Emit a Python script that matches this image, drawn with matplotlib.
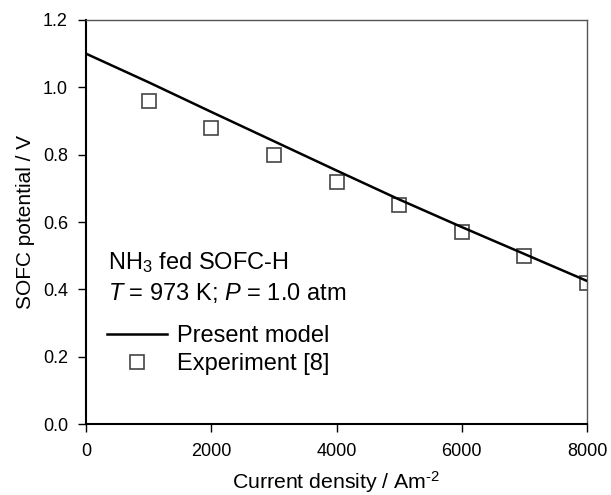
import numpy as np
import matplotlib
matplotlib.use('Agg')
import matplotlib.pyplot as plt

plt.rcParams['font.family'] = ['Liberation Sans', 'DejaVu Sans']
plt.rcParams['mathtext.fontset'] = 'custom'
plt.rcParams['mathtext.rm'] = 'Liberation Sans'
plt.rcParams['mathtext.it'] = 'Liberation Sans:italic'

# model curve
model_i = [0, 1000, 2000, 3000, 4000, 5000, 6000, 7000, 8000]
model_v = [1.10, 1.015, 0.927, 0.840, 0.753, 0.667, 0.585, 0.505, 0.425]

# experiment [8]
exp_i = [1000, 2000, 3000, 4000, 5000, 6000, 7000, 8000]
exp_v = [0.96, 0.88, 0.80, 0.72, 0.65, 0.57, 0.50, 0.42]

xticks = [0, 2000, 4000, 6000, 8000]
yticks = [0.0, 0.2, 0.4, 0.6, 0.8, 1.0, 1.2]

fig = plt.figure(figsize=(6.11, 4.95), dpi=100)
ax = fig.add_axes([0.1408, 0.1434, 0.8199, 0.8162])

ax.plot(model_i, model_v, color='black', lw=1.8, label='Present model', zorder=3)
ax.plot(exp_i, exp_v, 's', ms=9.5, mfc='white', mec='#444444', mew=1.2,
        label='Experiment [8]', zorder=2)

ax.set_xlim(0, 8000)
ax.set_ylim(0, 1.2)
ax.set_xticks(xticks)
ax.set_yticks(yticks)
ax.set_yticklabels(['%.1f' % v for v in yticks])
ax.tick_params(direction='out', length=6, width=1, labelsize=13, colors='black',
               top=False, right=False)
ax.tick_params(axis='y', pad=7)
ax.tick_params(axis='x', pad=8)
for s in ['left', 'bottom']:
    ax.spines[s].set_linewidth(1.5)
    ax.spines[s].set_color('black')
for s in ['top', 'right']:
    ax.spines[s].set_linewidth(1.0)
    ax.spines[s].set_color('#555555')

ax.set_xlabel('Current density / Am$^{\\text{-}2}$', fontsize=15.3, labelpad=6)
ax.set_ylabel('SOFC potential / V', fontsize=15, labelpad=6)

ax.text(350, 0.481, 'NH$_3$ fed SOFC-H', fontsize=17, va='center', ha='left')
ax.text(350, 0.389, '$T$ = 973 K; $P$ = 1.0 atm', fontsize=17, va='center', ha='left')

ax.legend(loc='upper left', bbox_to_anchor=(0.042, 0.245), frameon=False,
          fontsize=17, handlelength=2.55, handletextpad=0.4, labelspacing=0.25,
          borderaxespad=0, borderpad=0)

fig.savefig('out.png', dpi=100)
